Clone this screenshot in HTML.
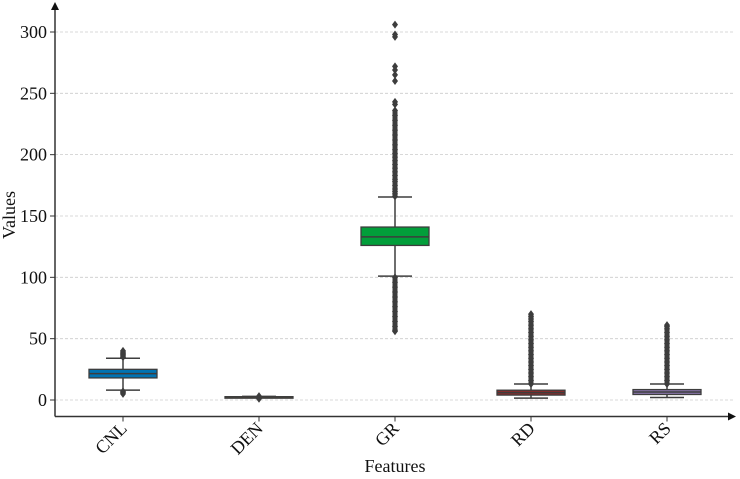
<!DOCTYPE html>
<html><head><meta charset="utf-8"><style>
body{margin:0;background:#fff}
text{font-family:"Liberation Serif","DejaVu Serif",serif !important;fill:#111}
</style></head><body>
<svg id="c" width="740" height="479" style="position:absolute;left:0;top:0" xmlns="http://www.w3.org/2000/svg"></svg>
<script>
const categories=["CNL","DEN","GR","RD","RS"];
const colors=["#0173b2","#de8f05","#029e3a","#8c2b2b","#8d78b0"];
const q1=[18,2.3,126,4,4.5];
const medians=[21.5,2.5,133,6,6.5];
const q3=[25,2.7,141,8,8.5];
const whiskLo=[8,2,101,1.5,2];
const whiskHi=[34,3,165.5,13,13];
const outliersHi=[[35,36,37,38,39,40],[3.2],
 [166,168,170,172,175,178,180,183,186,189,192,195,198,201,204,208,212,216,220,224,228,232,236,241,243,260,265,269,272,296,298,306],
 [13,16,19,22,25,28,31,34,37,40,43,46,49,52,55,58,61,64,66,68,70],
 [13,16,19,22,25,28,31,34,37,40,43,46,49,52,55,58,60,61]];
const outliersLo=[[5,6,7],[1],[100,96,92,88,84,80,76,72,68,64,60,57,56],[],[]];
const yTicks=[0,50,100,150,200,250,300];
const NS="http://www.w3.org/2000/svg";
const svg=document.getElementById("c");
const X0=55,AXY=416.5;
function y(v){return 400-v*1.2267;}
function x(i){return 123+i*136;}
function el(t,a){const e=document.createElementNS(NS,t);for(const k in a)e.setAttribute(k,a[k]);svg.appendChild(e);return e;}
yTicks.forEach(t=>{
 const g=el("line",{x1:X0,x2:735,y1:y(t),y2:y(t),stroke:"#ccc","stroke-dasharray":"3,2","stroke-width":0.8});
 
 
 el("line",{x1:X0-5,x2:X0,y1:y(t),y2:y(t),stroke:"#333"});
 const tx=el("text",{x:X0-8,y:y(t)+6,"text-anchor":"end","font-size":18});
 tx.textContent=t;
 
 
});
categories.forEach((c,i)=>{
 const cx=x(i),w=68,s="#3d3d3d";
 el("line",{x1:cx,x2:cx,y1:y(whiskHi[i]),y2:y(q3[i]),stroke:s,"stroke-width":1.5});
 el("line",{x1:cx,x2:cx,y1:y(q1[i]),y2:y(whiskLo[i]),stroke:s,"stroke-width":1.5});
 el("line",{x1:cx-17,x2:cx+17,y1:y(whiskHi[i]),y2:y(whiskHi[i]),stroke:s,"stroke-width":1.5});
 el("line",{x1:cx-17,x2:cx+17,y1:y(whiskLo[i]),y2:y(whiskLo[i]),stroke:s,"stroke-width":1.5});
 const b=el("rect",{x:cx-w/2,y:y(q3[i]),width:w,height:Math.max(1.5,y(q1[i])-y(q3[i])),fill:colors[i],stroke:s,"stroke-width":1.3});
 
 
 el("line",{x1:cx-w/2,x2:cx+w/2,y1:y(medians[i]),y2:y(medians[i]),stroke:s,"stroke-width":1.5});
 outliersHi[i].concat(outliersLo[i]).forEach(v=>{
  const p=el("path",{d:`M${cx} ${y(v)-4}L${cx+3} ${y(v)}L${cx} ${y(v)+4}L${cx-3} ${y(v)}Z`,fill:s});
  
  
 });
 const hi=outliersHi[i];
 if(hi.length>15){el("line",{x1:cx,x2:cx,y1:y(hi[0]),y2:y(hi[Math.min(hi.length-1,i==2?22:hi.length-1)]),stroke:s,"stroke-width":5});}
 const lo=outliersLo[i];
 if(lo.length>8){el("line",{x1:cx,x2:cx,y1:y(lo[0]),y2:y(lo[lo.length-1]),stroke:s,"stroke-width":5});}
 el("line",{x1:cx,x2:cx,y1:AXY,y2:AXY+5,stroke:"#333"});
 const t=el("text",{x:0,y:0,"text-anchor":"end","font-size":18,transform:`translate(${cx+5},${AXY+13}) rotate(-45)`});
 t.textContent=c;
 
 
});
</script>
<svg width="740" height="479" style="position:absolute;left:0;top:0">
<line x1="55" y1="416.5" x2="730" y2="416.5" stroke="#333" stroke-width="1.5"/>
<path d="M736 416.5L728 412.5L728 420.5Z" fill="#111"/>
<line x1="55" y1="416.5" x2="55" y2="8" stroke="#333" stroke-width="1.5"/>
<path d="M55 2L51 10L59 10Z" fill="#111"/>
<text x="395" y="472" text-anchor="middle" font-size="18">Features</text>
<text transform="translate(15,215) rotate(-90)" text-anchor="middle" font-size="18">Values</text>
</svg>
</body></html>
